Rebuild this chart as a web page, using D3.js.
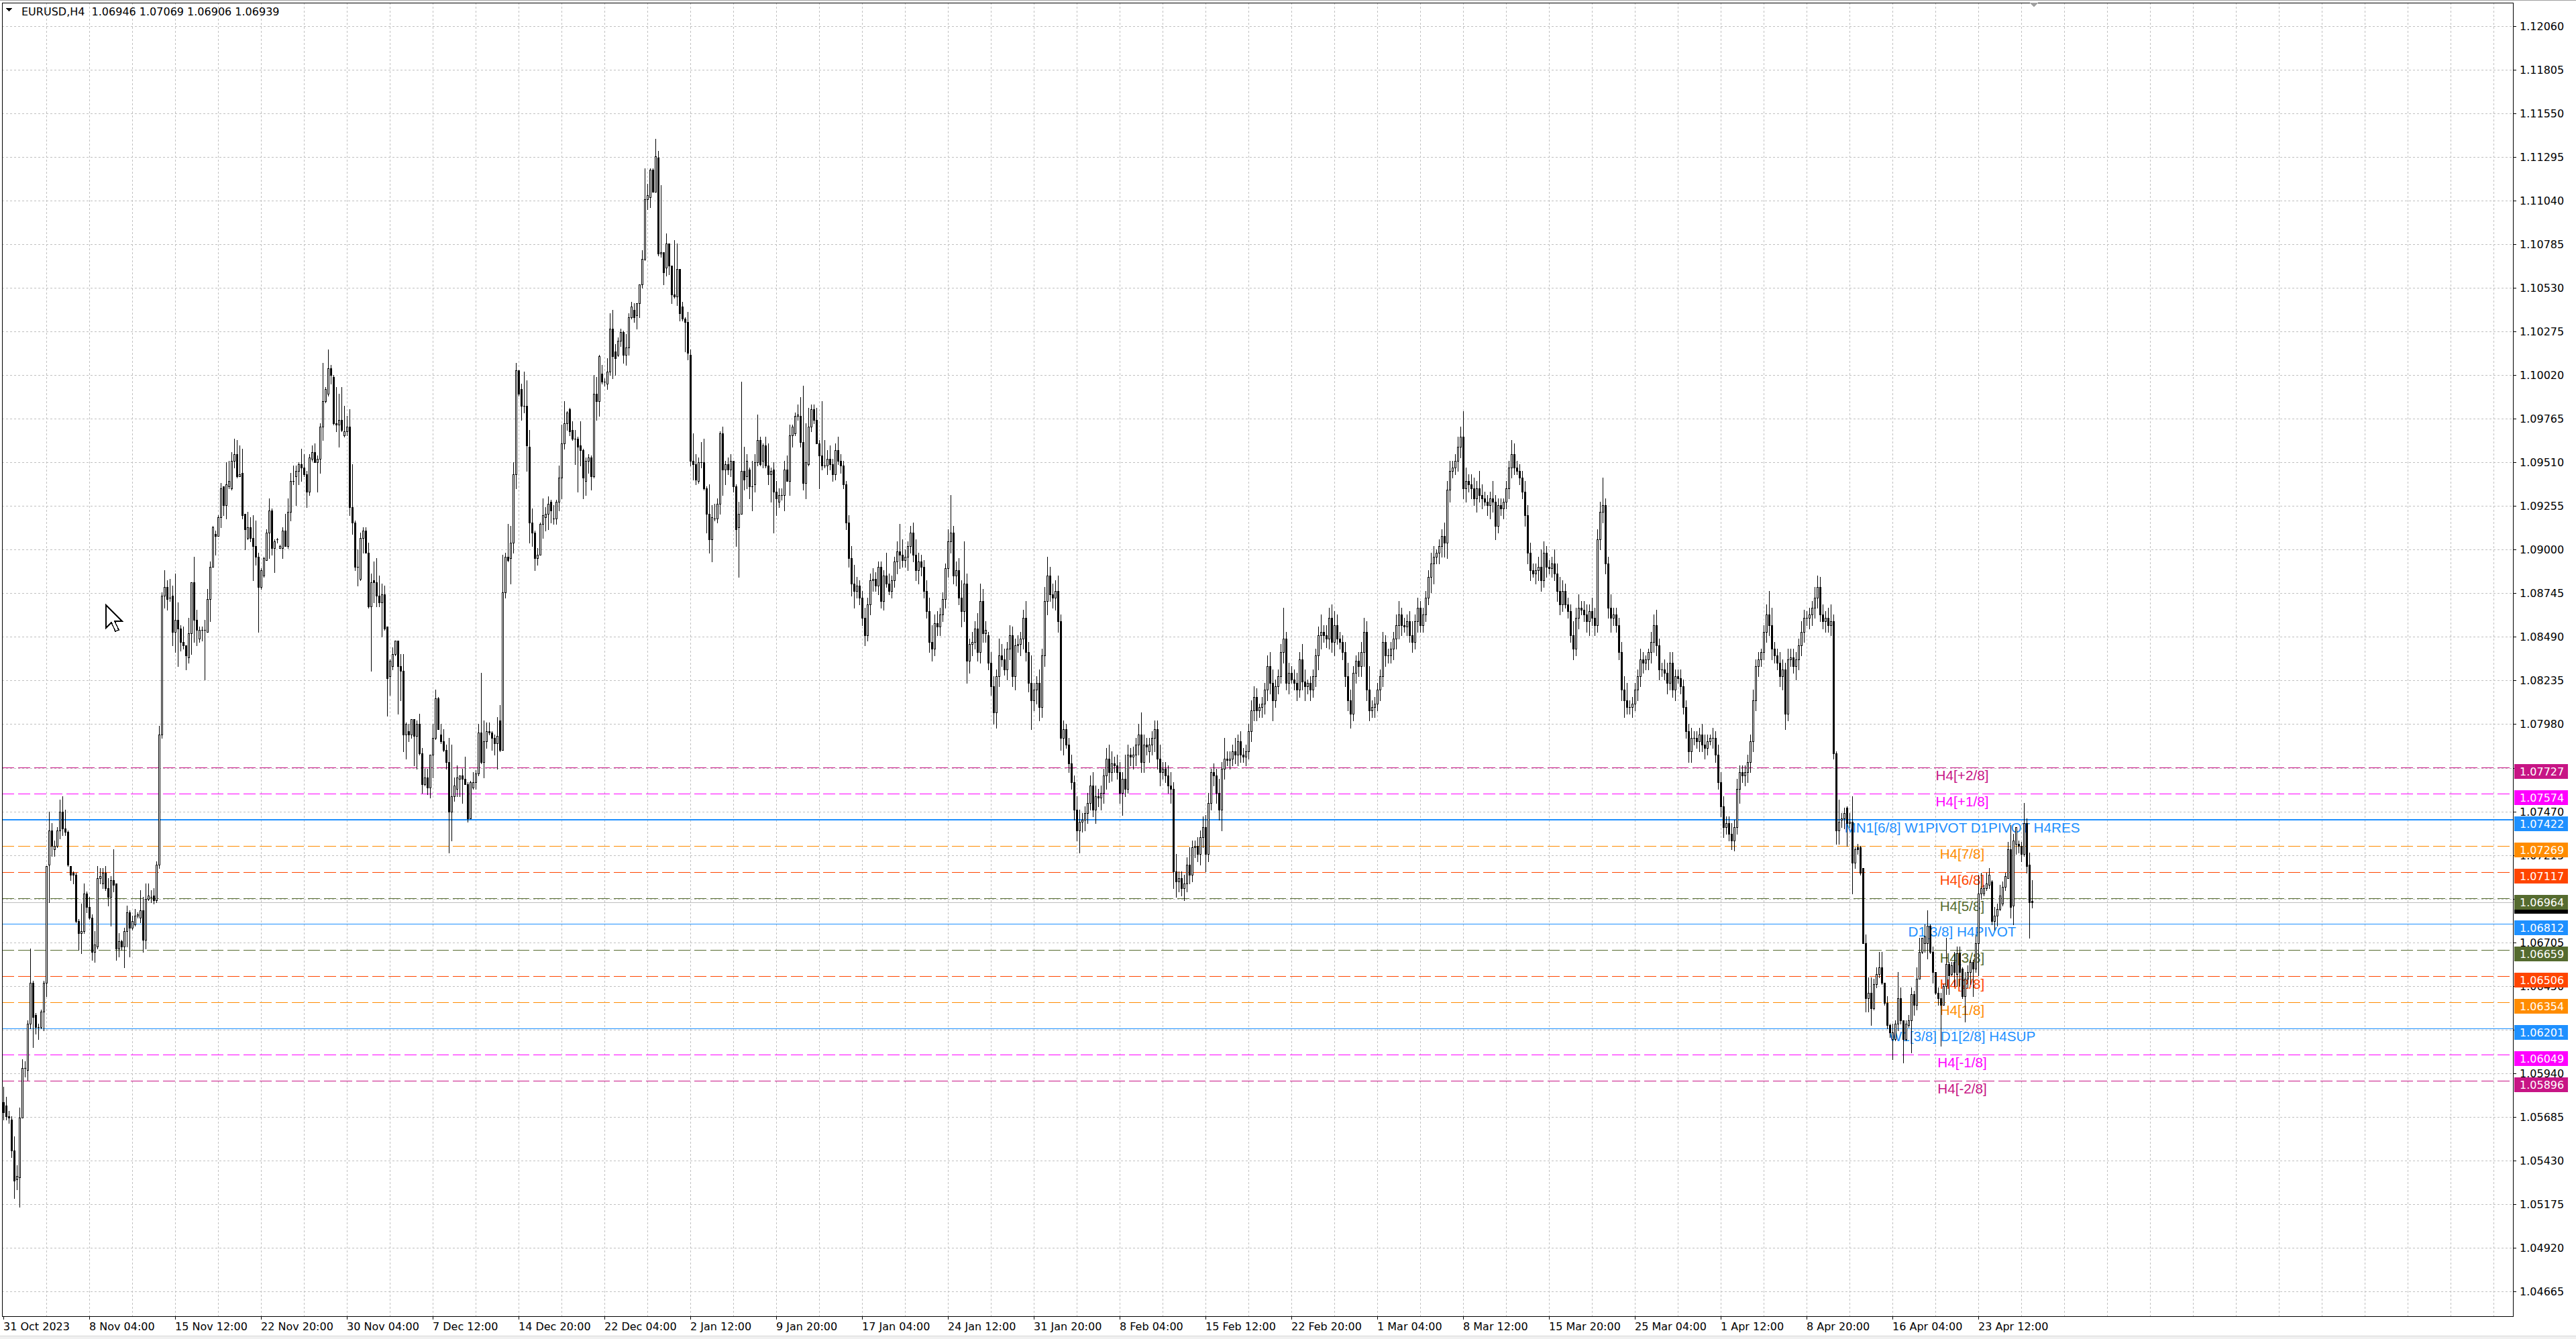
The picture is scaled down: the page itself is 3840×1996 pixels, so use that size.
<!DOCTYPE html>
<html><head><meta charset="utf-8">
<script src="https://cdn.jsdelivr.net/npm/d3@7"></script>
<style>html,body{margin:0;padding:0;background:#fff;overflow:hidden}svg{display:block}</style>
</head><body>
<script>
// ---------------- DATA ----------------
const symbolTitle = "EURUSD,H4";
const headerValues = ["1.06946", "1.07069", "1.06906", "1.06939"];
const timeLabels = ["31 Oct 2023","8 Nov 04:00","15 Nov 12:00","22 Nov 20:00","30 Nov 04:00","7 Dec 12:00","14 Dec 20:00","22 Dec 04:00","2 Jan 12:00","9 Jan 20:00","17 Jan 04:00","24 Jan 12:00","31 Jan 20:00","8 Feb 04:00","15 Feb 12:00","22 Feb 20:00","1 Mar 04:00","8 Mar 12:00","15 Mar 20:00","25 Mar 04:00","1 Apr 12:00","8 Apr 20:00","16 Apr 04:00","23 Apr 12:00"];
const timeLabelBars = [0,32,64,96,128,160,192,224,256,288,320,352,384,416,448,480,512,544,576,608,640,672,704,736];
const priceTicks = [1.04665,1.04920,1.05175,1.05430,1.05685,1.05940,1.06195,1.06450,1.06705,1.06960,1.07215,1.07470,1.07725,1.07980,1.08235,1.08490,1.08745,1.09000,1.09255,1.09510,1.09765,1.10020,1.10275,1.10530,1.10785,1.11040,1.11295,1.11550,1.11805,1.12060];
const levelPrices = [1.07727,1.07574,1.07422,1.07269,1.07117,1.06964,1.06812,1.06659,1.06506,1.06354,1.06201,1.06049,1.05896];
const levelNames = ["H4[+2/8]","H4[+1/8]","MN1[6/8] W1PIVOT D1PIVOT H4RES","H4[7/8]","H4[6/8]","H4[5/8]","D1[3/8] H4PIVOT","H4[3/8]","H4[2/8]","H4[1/8]","W1[3/8] D1[2/8] H4SUP","H4[-1/8]","H4[-2/8]"];
const bidPrice = 1.06939;

// bars 0..306
const openA = [1.0577,1.0575,1.0569,1.0567,1.0549,1.0532,1.0533,1.0568,1.0597,1.0596,1.0623,1.0647,1.0628,1.0621,1.0621,1.0630,1.0647,1.0716,1.0736,1.0725,1.0727,1.0736,1.0747,1.0737,1.0735,1.0715,1.0711,1.0710,1.0683,1.0676,1.0677,1.0699,1.0691,1.0685,1.0665,1.0668,1.0708,1.0705,1.0711,1.0702,1.0697,1.0707,1.0705,1.0667,1.0671,1.0668,1.0677,1.0688,1.0679,1.0681,1.0686,1.0685,1.0689,1.0672,1.0696,1.0697,1.0698,1.0695,1.0716,1.0792,1.0873,1.0878,1.0872,1.0873,1.0852,1.0859,1.0854,1.0846,1.0844,1.0837,1.0851,1.0881,1.0859,1.0848,1.0853,1.0853,1.0852,1.0871,1.0890,1.0909,1.0908,1.0919,1.0937,1.0926,1.0937,1.0936,1.0952,1.0956,1.0943,1.0945,1.0921,1.0907,1.0913,1.0907,1.0902,1.0896,1.0878,1.0885,1.0894,1.0910,1.0923,1.0901,1.0906,1.0901,1.0901,1.0911,1.0902,1.0922,1.0940,1.0943,1.0946,1.0950,1.0948,1.0944,1.0934,1.0953,1.0957,1.0951,1.0953,1.0972,1.0987,1.0991,1.1006,1.1001,1.0974,1.0973,1.0976,1.0967,1.0969,1.0972,1.0925,1.0916,1.0890,1.0883,1.0907,1.0911,1.0898,1.0867,1.0882,1.0881,1.0873,1.0869,1.0874,1.0855,1.0826,1.0832,1.0839,1.0847,1.0832,1.0829,1.0792,1.0794,1.0792,1.0801,1.0791,1.0798,1.0781,1.0763,1.0767,1.0761,1.0780,1.0790,1.0813,1.0792,1.0788,1.0783,1.0776,1.0747,1.0756,1.0760,1.0766,1.0768,1.0766,1.0763,1.0743,1.0761,1.0764,1.0769,1.0793,1.0776,1.0788,1.0794,1.0793,1.0790,1.0787,1.0800,1.0783,1.0875,1.0896,1.0895,1.0904,1.0944,1.1005,1.0994,1.0984,1.0984,1.0960,1.0916,1.0910,1.0895,1.0897,1.0915,1.0919,1.0921,1.0928,1.0918,1.0918,1.0928,1.0942,1.0962,1.0974,1.0982,1.0970,1.0965,1.0965,1.0961,1.0958,1.0940,1.0952,1.0954,1.0943,1.0991,1.0987,1.1003,1.0998,1.0997,1.1004,1.1029,1.1016,1.1014,1.1022,1.1027,1.1014,1.1018,1.1036,1.1040,1.1037,1.1044,1.1055,1.1070,1.1105,1.1106,1.1122,1.1109,1.1129,1.1073,1.1074,1.1065,1.1079,1.1066,1.1049,1.1048,1.1064,1.1042,1.1035,1.1033,1.1014,1.0952,1.0950,1.0940,1.0951,1.0951,1.0936,1.0921,1.0906,1.0918,1.0918,1.0927,1.0968,1.0947,1.0950,1.0947,1.0952,1.0937,1.0913,1.0921,1.0946,1.0943,1.0947,1.0937,1.0938,1.0951,1.0964,1.0952,1.0961,1.0949,1.0944,1.0947,1.0934,1.0928,1.0932,1.0932,1.0947,1.0940,1.0967,1.0968,1.0978,1.0978,1.0963,1.0939,1.0950,1.0972,1.0982,1.0976,1.0962,1.0955,1.0949];
const highA = [1.0586,1.0580,1.0572,1.0569,1.0557,1.0540,1.0574,1.0602,1.0601,1.0625,1.0667,1.0648,1.0629,1.0623,1.0631,1.0648,1.0715,1.0747,1.0740,1.0730,1.0738,1.0754,1.0756,1.0748,1.0736,1.0715,1.0712,1.0711,1.0684,1.0693,1.0705,1.0700,1.0697,1.0687,1.0677,1.0715,1.0714,1.0714,1.0715,1.0708,1.0709,1.0725,1.0705,1.0676,1.0672,1.0679,1.0692,1.0689,1.0686,1.0690,1.0688,1.0701,1.0697,1.0705,1.0705,1.0701,1.0702,1.0718,1.0797,1.0875,1.0888,1.0882,1.0883,1.0879,1.0886,1.0869,1.0856,1.0855,1.0844,1.0860,1.0881,1.0896,1.0865,1.0855,1.0855,1.0859,1.0877,1.0893,1.0914,1.0911,1.0920,1.0939,1.0937,1.0951,1.0952,1.0957,1.0965,1.0964,1.0961,1.0959,1.0921,1.0922,1.0919,1.0920,1.0917,1.0898,1.0889,1.0896,1.0912,1.0930,1.0924,1.0906,1.0907,1.0903,1.0913,1.0921,1.0930,1.0945,1.0949,1.0949,1.0951,1.0959,1.0956,1.0946,1.0956,1.0961,1.0962,1.0955,1.0974,1.1009,1.0995,1.1017,1.1008,1.1002,1.0995,1.0991,1.0995,1.0984,1.0978,1.0982,1.0950,1.0917,1.0900,1.0910,1.0913,1.0913,1.0904,1.0886,1.0893,1.0895,1.0885,1.0880,1.0879,1.0855,1.0836,1.0843,1.0847,1.0847,1.0839,1.0839,1.0799,1.0798,1.0801,1.0801,1.0800,1.0804,1.0784,1.0772,1.0772,1.0780,1.0798,1.0818,1.0814,1.0798,1.0795,1.0786,1.0790,1.0786,1.0767,1.0774,1.0768,1.0772,1.0779,1.0764,1.0765,1.0770,1.0771,1.0798,1.0828,1.0800,1.0799,1.0799,1.0794,1.0792,1.0802,1.0809,1.0897,1.0898,1.0915,1.0914,1.0951,1.1009,1.1005,1.0997,1.1004,1.0999,1.0970,1.0924,1.0911,1.0901,1.0916,1.0930,1.0925,1.0931,1.0929,1.0926,1.0929,1.0949,1.0973,1.0987,1.0981,1.0983,1.0975,1.0970,1.0966,1.0975,1.0959,1.0954,1.0956,1.0955,1.1002,1.1001,1.1014,1.1008,1.1000,1.1012,1.1038,1.1040,1.1020,1.1024,1.1029,1.1028,1.1026,1.1038,1.1045,1.1044,1.1044,1.1055,1.1075,1.1123,1.1114,1.1123,1.1123,1.1140,1.1133,1.1113,1.1074,1.1085,1.1079,1.1066,1.1081,1.1079,1.1064,1.1045,1.1036,1.1039,1.1017,1.0968,1.0956,1.0954,1.0963,1.0965,1.0937,1.0938,1.0926,1.0927,1.0930,1.0969,1.0972,1.0952,1.0954,1.0956,1.0952,1.0938,1.0928,1.0998,1.0960,1.0956,1.0948,1.0952,1.0956,1.0979,1.0966,1.0962,1.0966,1.0962,1.0948,1.0951,1.0940,1.0936,1.0936,1.0952,1.0955,1.0973,1.0973,1.0980,1.0985,1.0989,1.0996,1.0974,1.0983,1.0985,1.0985,1.0983,1.0964,1.0987,1.0964];
const lowA = [1.0567,1.0567,1.0565,1.0545,1.0521,1.0526,1.0516,1.0568,1.0592,1.0590,1.0620,1.0609,1.0617,1.0614,1.0620,1.0619,1.0639,1.0694,1.0721,1.0721,1.0726,1.0731,1.0733,1.0733,1.0715,1.0707,1.0705,1.0682,1.0666,1.0664,1.0676,1.0688,1.0684,1.0660,1.0659,1.0667,1.0705,1.0702,1.0701,1.0692,1.0680,1.0700,1.0660,1.0662,1.0666,1.0656,1.0668,1.0662,1.0678,1.0680,1.0685,1.0682,1.0665,1.0667,1.0695,1.0694,1.0693,1.0694,1.0714,1.0790,1.0866,1.0865,1.0870,1.0844,1.0840,1.0832,1.0841,1.0842,1.0830,1.0834,1.0839,1.0846,1.0844,1.0846,1.0847,1.0824,1.0852,1.0858,1.0890,1.0897,1.0908,1.0913,1.0920,1.0918,1.0936,1.0935,1.0948,1.0942,1.0943,1.0918,1.0900,1.0906,1.0905,1.0882,1.0891,1.0852,1.0877,1.0884,1.0894,1.0895,1.0897,1.0887,1.0904,1.0901,1.0895,1.0902,1.0901,1.0917,1.0938,1.0926,1.0938,1.0940,1.0943,1.0925,1.0932,1.0952,1.0951,1.0934,1.0945,1.0964,1.0986,1.0990,1.0997,1.0973,1.0969,1.0960,1.0969,1.0966,1.0967,1.0920,1.0909,1.0888,1.0879,1.0882,1.0898,1.0898,1.0866,1.0829,1.0869,1.0867,1.0867,1.0849,1.0853,1.0803,1.0815,1.0830,1.0838,1.0804,1.0812,1.0782,1.0778,1.0788,1.0790,1.0774,1.0772,1.0780,1.0758,1.0762,1.0757,1.0755,1.0767,1.0789,1.0795,1.0787,1.0782,1.0772,1.0723,1.0730,1.0753,1.0756,1.0756,1.0752,1.0763,1.0741,1.0743,1.0760,1.0760,1.0768,1.0775,1.0767,1.0784,1.0792,1.0783,1.0780,1.0772,1.0782,1.0783,1.0872,1.0893,1.0880,1.0898,1.0936,1.0990,1.0976,1.0980,1.0946,1.0904,1.0902,1.0888,1.0891,1.0897,1.0907,1.0911,1.0912,1.0916,1.0915,1.0915,1.0923,1.0930,1.0959,1.0970,1.0967,1.0964,1.0950,1.0934,1.0949,1.0930,1.0932,1.0945,1.0935,1.0942,1.0976,1.0978,1.0997,1.0996,1.0994,1.1002,1.1000,1.1002,1.1013,1.1019,1.1009,1.1008,1.1014,1.1035,1.1033,1.1029,1.1036,1.1053,1.1069,1.1099,1.1100,1.1109,1.1109,1.1072,1.1071,1.1055,1.1060,1.1061,1.1044,1.1047,1.1043,1.1034,1.1034,1.1016,1.1011,1.0949,1.0941,1.0938,1.0939,1.0948,1.0935,1.0910,1.0898,1.0893,1.0917,1.0916,1.0921,1.0932,1.0938,1.0944,1.0943,1.0934,1.0902,1.0884,1.0921,1.0935,1.0936,1.0930,1.0923,1.0934,1.0949,1.0949,1.0948,1.0948,1.0938,1.0928,1.0910,1.0920,1.0925,1.0929,1.0923,1.0940,1.0932,1.0960,1.0967,1.0976,1.0960,1.0935,1.0930,1.0949,1.0969,1.0974,1.0962,1.0936,1.0947,1.0948];
const closeA = [1.0571,1.0569,1.0568,1.0549,1.0531,1.0534,1.0568,1.0597,1.0597,1.0623,1.0647,1.0627,1.0621,1.0621,1.0630,1.0647,1.0715,1.0736,1.0727,1.0727,1.0736,1.0747,1.0737,1.0735,1.0716,1.0710,1.0710,1.0683,1.0676,1.0677,1.0699,1.0691,1.0685,1.0665,1.0669,1.0708,1.0709,1.0711,1.0702,1.0697,1.0707,1.0704,1.0667,1.0671,1.0668,1.0677,1.0688,1.0679,1.0683,1.0686,1.0687,1.0689,1.0672,1.0696,1.0698,1.0697,1.0695,1.0716,1.0792,1.0873,1.0878,1.0871,1.0872,1.0852,1.0859,1.0854,1.0846,1.0844,1.0838,1.0851,1.0881,1.0859,1.0853,1.0853,1.0853,1.0853,1.0871,1.0890,1.0913,1.0908,1.0919,1.0936,1.0926,1.0938,1.0940,1.0952,1.0956,1.0943,1.0944,1.0920,1.0912,1.0913,1.0907,1.0902,1.0896,1.0878,1.0888,1.0895,1.0910,1.0923,1.0901,1.0905,1.0906,1.0902,1.0911,1.0902,1.0922,1.0940,1.0940,1.0946,1.0950,1.0948,1.0944,1.0934,1.0954,1.0957,1.0951,1.0953,1.0972,1.0987,1.0994,1.1006,1.1002,1.0974,1.0973,1.0976,1.0970,1.0969,1.0972,1.0925,1.0916,1.0890,1.0890,1.0907,1.0911,1.0898,1.0867,1.0881,1.0881,1.0873,1.0869,1.0874,1.0854,1.0825,1.0835,1.0839,1.0847,1.0832,1.0829,1.0792,1.0798,1.0792,1.0801,1.0791,1.0798,1.0781,1.0763,1.0767,1.0761,1.0780,1.0790,1.0813,1.0795,1.0788,1.0783,1.0776,1.0747,1.0756,1.0762,1.0767,1.0768,1.0766,1.0763,1.0743,1.0764,1.0764,1.0769,1.0793,1.0776,1.0788,1.0794,1.0793,1.0790,1.0787,1.0791,1.0783,1.0875,1.0896,1.0894,1.0904,1.0944,1.1005,1.0991,1.0984,1.0984,1.0961,1.0916,1.0910,1.0895,1.0897,1.0915,1.0920,1.0921,1.0927,1.0923,1.0918,1.0928,1.0942,1.0962,1.0974,1.0980,1.0969,1.0965,1.0965,1.0960,1.0958,1.0942,1.0952,1.0954,1.0943,1.0991,1.0987,1.1013,1.0998,1.0998,1.1004,1.1029,1.1013,1.1012,1.1022,1.1027,1.1014,1.1018,1.1036,1.1042,1.1036,1.1044,1.1055,1.1070,1.1105,1.1107,1.1122,1.1109,1.1130,1.1073,1.1074,1.1062,1.1079,1.1066,1.1049,1.1048,1.1064,1.1038,1.1035,1.1033,1.1015,1.0952,1.0950,1.0941,1.0951,1.0951,1.0936,1.0921,1.0906,1.0919,1.0918,1.0927,1.0968,1.0947,1.0950,1.0947,1.0952,1.0937,1.0912,1.0921,1.0946,1.0941,1.0952,1.0937,1.0937,1.0951,1.0964,1.0950,1.0961,1.0949,1.0944,1.0946,1.0934,1.0930,1.0932,1.0932,1.0947,1.0940,1.0967,1.0972,1.0978,1.0979,1.0963,1.0939,1.0951,1.0972,1.0982,1.0976,1.0962,1.0955,1.0949,1.0949];

// bars 307..682
const openB = [1.0949,1.0953,1.0950,1.0944,1.0958,1.0952,1.0949,1.0938,1.0916,1.0895,
1.0880,1.0876,1.0879,1.0872,1.0860,1.0850,1.0868,1.0882,1.0883,1.0879,
1.0890,1.0870,1.0885,1.0880,1.0876,1.0882,1.0893,1.0899,1.0897,1.0894,
1.0896,1.0902,1.0910,1.0897,1.0888,1.0893,1.0890,1.0876,1.0864,1.0846,
1.0842,1.0857,1.0855,1.0862,1.0871,1.0889,1.0905,1.0910,1.0885,1.0888,
1.0872,1.0864,1.0880,1.0835,1.0845,1.0846,1.0854,1.0840,1.0870,1.0851,
1.0850,1.0834,1.0820,1.0805,1.0826,1.0838,1.0836,1.0830,1.0842,1.0850,
1.0826,1.0844,1.0845,1.0848,1.0860,1.0840,1.0822,1.0812,1.0818,1.0822,
1.0808,1.0838,1.0870,1.0885,1.0874,1.0872,1.0876,1.0858,1.0790,1.0795,
1.0786,1.0775,1.0764,1.0748,1.0736,1.0741,1.0742,1.0746,1.0752,1.0762,
1.0748,1.0756,1.0755,1.0758,1.0768,1.0778,1.0770,1.0775,1.0774,1.0770,
1.0758,1.0766,1.0760,1.0780,1.0779,1.0780,1.0786,1.0792,1.0776,1.0786,
1.0782,1.0786,1.0790,1.0795,1.0778,1.0770,1.0772,1.0768,1.0762,1.0760,
1.0712,1.0706,1.0708,1.0702,1.0705,1.0716,1.0710,1.0726,1.0727,1.0722,
1.0732,1.0738,1.0722,1.0752,1.0770,1.0768,1.0758,1.0748,1.0772,1.0778,
1.0777,1.0778,1.0782,1.0780,1.0788,1.0780,1.0779,1.0782,1.0794,1.0806,
1.0814,1.0806,1.0808,1.0810,1.0818,1.0832,1.0822,1.0812,1.0820,1.0826,
1.0840,1.0848,1.0822,1.0828,1.0824,1.0822,1.0818,1.0836,1.0823,1.0820,
1.0822,1.0818,1.0826,1.0838,1.0850,1.0852,1.0850,1.0848,1.0860,1.0846,
1.0856,1.0848,1.0846,1.0840,1.0826,1.0812,1.0804,1.0828,1.0835,1.0832,
1.0840,1.0852,1.0818,1.0806,1.0808,1.0810,1.0818,1.0826,1.0846,1.0838,
1.0838,1.0842,1.0848,1.0856,1.0862,1.0856,1.0855,1.0858,1.0850,1.0846,
1.0858,1.0866,1.0856,1.0862,1.0872,1.0884,1.0892,1.0896,1.0898,1.0902,
1.0908,1.0904,1.0935,1.0946,1.0948,1.0952,1.0960,1.0966,1.0936,1.0940,
1.0938,1.0936,1.0930,1.0936,1.0932,1.0930,1.0928,1.0926,1.0930,1.0928,
1.0914,1.0926,1.0924,1.0928,1.0936,1.0948,1.0956,1.0948,1.0946,1.0942,
1.0934,1.0920,1.0898,1.0888,1.0886,1.0888,1.0890,1.0882,1.0898,1.0890,
1.0889,1.0892,1.0886,1.0876,1.0868,1.0876,1.0868,1.0864,1.0850,1.0842,
1.0860,1.0866,1.0865,1.0862,1.0858,1.0864,1.0860,1.0856,1.0906,1.0922,
1.0926,1.0892,1.0866,1.0860,1.0862,1.0856,1.0840,1.0818,1.0812,1.0808,
1.0808,1.0810,1.0818,1.0826,1.0836,1.0834,1.0836,1.0840,1.0846,1.0856,
1.0844,1.0830,1.0830,1.0828,1.0822,1.0834,1.0818,1.0826,1.0825,1.0820,
1.0808,1.0794,1.0782,1.0790,1.0790,1.0788,1.0792,1.0786,1.0784,1.0788,
1.0790,1.0790,1.0780,1.0764,1.0750,1.0738,1.0740,1.0734,1.0730,1.0738,
1.0760,1.0770,1.0768,1.0770,1.0776,1.0788,1.0812,1.0832,1.0836,1.0840,
1.0852,1.0862,1.0856,1.0842,1.0838,1.0834,1.0826,1.0830,1.0804,1.0836,
1.0837,1.0832,1.0836,1.0844,1.0852,1.0860,1.0860,1.0862,1.0866,1.0872,
1.0878,1.0862,1.0858,1.0860,1.0856,1.0858];
const highB = [1.0958,1.0961,1.0953,1.0962,1.0966,1.0956,1.0952,1.0940,1.0920,1.0902,
1.0891,1.0884,1.0882,1.0876,1.0866,1.0872,1.0886,1.0889,1.0887,1.0893,
1.0893,1.0888,1.0898,1.0886,1.0885,1.0896,1.0905,1.0915,1.0906,1.0900,
1.0905,1.0914,1.0916,1.0906,1.0898,1.0897,1.0894,1.0882,1.0872,1.0856,
1.0862,1.0864,1.0866,1.0875,1.0892,1.0912,1.0932,1.0914,1.0893,1.0895,
1.0882,1.0905,1.0886,1.0848,1.0852,1.0858,1.0863,1.0880,1.0877,1.0858,
1.0852,1.0840,1.0826,1.0830,1.0848,1.0845,1.0842,1.0846,1.0856,1.0855,
1.0848,1.0850,1.0852,1.0865,1.0870,1.0846,1.0838,1.0822,1.0826,1.0830,
1.0842,1.0878,1.0896,1.0890,1.0880,1.0882,1.0885,1.0862,1.0800,1.0798,
1.0790,1.0780,1.0768,1.0756,1.0748,1.0746,1.0750,1.0758,1.0768,1.0770,
1.0762,1.0760,1.0762,1.0772,1.0784,1.0786,1.0782,1.0779,1.0780,1.0776,
1.0770,1.0780,1.0786,1.0784,1.0785,1.0790,1.0798,1.0805,1.0792,1.0790,
1.0790,1.0794,1.0800,1.0800,1.0786,1.0776,1.0776,1.0774,1.0770,1.0764,
1.0722,1.0712,1.0712,1.0710,1.0720,1.0726,1.0730,1.0730,1.0732,1.0736,
1.0744,1.0745,1.0758,1.0772,1.0775,1.0772,1.0766,1.0776,1.0790,1.0782,
1.0782,1.0786,1.0790,1.0792,1.0794,1.0784,1.0786,1.0798,1.0812,1.0820,
1.0819,1.0810,1.0814,1.0822,1.0838,1.0840,1.0830,1.0824,1.0830,1.0845,
1.0866,1.0852,1.0834,1.0832,1.0830,1.0828,1.0840,1.0845,1.0830,1.0824,
1.0826,1.0830,1.0842,1.0855,1.0862,1.0856,1.0856,1.0866,1.0868,1.0864,
1.0862,1.0852,1.0850,1.0846,1.0834,1.0818,1.0832,1.0838,1.0840,1.0846,
1.0860,1.0858,1.0832,1.0812,1.0814,1.0822,1.0830,1.0852,1.0850,1.0842,
1.0846,1.0852,1.0862,1.0870,1.0866,1.0860,1.0862,1.0864,1.0858,1.0862,
1.0872,1.0870,1.0866,1.0876,1.0888,1.0898,1.0902,1.0900,1.0906,1.0912,
1.0916,1.0940,1.0952,1.0952,1.0956,1.0966,1.0972,1.0981,1.0948,1.0944,
1.0944,1.0942,1.0940,1.0946,1.0938,1.0934,1.0932,1.0934,1.0940,1.0932,
1.0930,1.0930,1.0930,1.0940,1.0952,1.0964,1.0962,1.0952,1.0950,1.0946,
1.0940,1.0926,1.0904,1.0892,1.0892,1.0896,1.0900,1.0905,1.0902,1.0894,
1.0896,1.0900,1.0892,1.0884,1.0882,1.0880,1.0872,1.0868,1.0858,1.0866,
1.0874,1.0870,1.0870,1.0868,1.0868,1.0872,1.0866,1.0912,1.0928,1.0942,
1.0930,1.0896,1.0874,1.0866,1.0866,1.0860,1.0846,1.0826,1.0822,1.0812,
1.0814,1.0822,1.0830,1.0842,1.0840,1.0838,1.0842,1.0852,1.0862,1.0865,
1.0848,1.0834,1.0836,1.0834,1.0840,1.0840,1.0830,1.0830,1.0830,1.0824,
1.0812,1.0798,1.0796,1.0794,1.0794,1.0796,1.0798,1.0792,1.0792,1.0792,
1.0796,1.0794,1.0786,1.0770,1.0756,1.0744,1.0744,1.0740,1.0742,1.0766,
1.0774,1.0774,1.0774,1.0780,1.0792,1.0818,1.0836,1.0840,1.0842,1.0856,
1.0868,1.0876,1.0866,1.0846,1.0842,1.0840,1.0836,1.0834,1.0842,1.0842,
1.0842,1.0840,1.0848,1.0858,1.0865,1.0864,1.0866,1.0870,1.0878,1.0885,
1.0884,1.0868,1.0864,1.0866,1.0868,1.0862];
const lowB = [1.0944,1.0947,1.0940,1.0941,1.0950,1.0945,1.0936,1.0912,1.0890,1.0873,
1.0866,1.0872,1.0868,1.0856,1.0844,1.0847,1.0862,1.0876,1.0876,1.0874,
1.0866,1.0865,1.0878,1.0874,1.0872,1.0878,1.0886,1.0889,1.0890,1.0890,
1.0888,1.0898,1.0893,1.0882,1.0880,1.0885,1.0872,1.0860,1.0840,1.0835,
1.0838,1.0850,1.0850,1.0858,1.0866,1.0884,1.0898,1.0880,1.0879,1.0868,
1.0855,1.0858,1.0822,1.0828,1.0838,1.0842,1.0835,1.0834,1.0846,1.0846,
1.0830,1.0815,1.0798,1.0796,1.0820,1.0832,1.0827,1.0824,1.0836,1.0820,
1.0818,1.0840,1.0838,1.0842,1.0835,1.0817,1.0795,1.0806,1.0810,1.0800,
1.0802,1.0832,1.0862,1.0870,1.0866,1.0865,1.0852,1.0783,1.0780,1.0784,
1.0770,1.0760,1.0742,1.0730,1.0723,1.0735,1.0736,1.0740,1.0748,1.0744,
1.0740,1.0750,1.0748,1.0752,1.0760,1.0764,1.0765,1.0770,1.0766,1.0752,
1.0745,1.0756,1.0758,1.0774,1.0772,1.0774,1.0780,1.0770,1.0770,1.0780,
1.0776,1.0780,1.0782,1.0772,1.0762,1.0766,1.0764,1.0758,1.0752,1.0702,
1.0697,1.0700,1.0698,1.0695,1.0700,1.0705,1.0706,1.0720,1.0718,1.0716,
1.0726,1.0712,1.0718,1.0748,1.0762,1.0752,1.0742,1.0736,1.0766,1.0774,
1.0772,1.0774,1.0775,1.0774,1.0776,1.0776,1.0774,1.0778,1.0788,1.0800,
1.0800,1.0802,1.0802,1.0804,1.0812,1.0816,1.0800,1.0808,1.0816,1.0822,
1.0834,1.0818,1.0816,1.0822,1.0818,1.0812,1.0814,1.0818,1.0812,1.0816,
1.0812,1.0814,1.0820,1.0830,1.0842,1.0846,1.0843,1.0842,1.0840,1.0838,
1.0845,1.0842,1.0836,1.0820,1.0806,1.0796,1.0800,1.0822,1.0826,1.0826,
1.0832,1.0812,1.0800,1.0802,1.0802,1.0806,1.0812,1.0820,1.0832,1.0834,
1.0834,1.0836,1.0842,1.0848,1.0850,1.0852,1.0850,1.0846,1.0840,1.0842,
1.0852,1.0852,1.0852,1.0858,1.0868,1.0875,1.0880,1.0892,1.0892,1.0896,
1.0896,1.0895,1.0928,1.0942,1.0944,1.0946,1.0954,1.0930,1.0928,1.0934,
1.0930,1.0926,1.0922,1.0928,1.0924,1.0926,1.0920,1.0918,1.0922,1.0906,
1.0910,1.0920,1.0918,1.0924,1.0930,1.0942,1.0944,1.0944,1.0938,1.0930,
1.0914,1.0892,1.0882,1.0884,1.0880,1.0882,1.0876,1.0878,1.0884,1.0886,
1.0884,1.0882,1.0870,1.0862,1.0864,1.0866,1.0860,1.0846,1.0836,1.0838,
1.0854,1.0862,1.0858,1.0852,1.0850,1.0856,1.0850,1.0852,1.0900,1.0916,
1.0886,1.0860,1.0852,1.0856,1.0852,1.0836,1.0812,1.0802,1.0804,1.0804,
1.0802,1.0806,1.0812,1.0820,1.0828,1.0830,1.0830,1.0834,1.0840,1.0838,
1.0824,1.0826,1.0824,1.0816,1.0818,1.0814,1.0812,1.0822,1.0816,1.0804,
1.0790,1.0776,1.0776,1.0786,1.0784,1.0782,1.0782,1.0778,1.0780,1.0786,
1.0784,1.0776,1.0760,1.0744,1.0732,1.0734,1.0730,1.0725,1.0724,1.0734,
1.0752,1.0764,1.0762,1.0764,1.0770,1.0782,1.0806,1.0826,1.0832,1.0836,
1.0846,1.0850,1.0836,1.0834,1.0830,1.0820,1.0818,1.0795,1.0800,1.0832,
1.0828,1.0824,1.0830,1.0838,1.0846,1.0856,1.0854,1.0856,1.0860,1.0866,
1.0858,1.0854,1.0852,1.0852,1.0850,1.0778];
const closeB = [1.0953,1.0950,1.0944,1.0958,1.0952,1.0949,1.0938,1.0916,1.0895,1.0880,
1.0876,1.0879,1.0872,1.0860,1.0850,1.0868,1.0882,1.0883,1.0879,1.0890,
1.0870,1.0885,1.0880,1.0876,1.0882,1.0893,1.0899,1.0897,1.0894,1.0896,
1.0902,1.0910,1.0897,1.0888,1.0893,1.0890,1.0876,1.0864,1.0846,1.0842,
1.0857,1.0855,1.0862,1.0871,1.0889,1.0905,1.0910,1.0885,1.0888,1.0872,
1.0864,1.0880,1.0835,1.0845,1.0846,1.0854,1.0840,1.0870,1.0851,1.0853,
1.0834,1.0820,1.0805,1.0826,1.0838,1.0836,1.0830,1.0842,1.0850,1.0826,
1.0844,1.0845,1.0848,1.0860,1.0840,1.0822,1.0812,1.0818,1.0822,1.0808,
1.0838,1.0870,1.0885,1.0874,1.0872,1.0876,1.0858,1.0790,1.0795,1.0786,
1.0775,1.0764,1.0748,1.0736,1.0741,1.0742,1.0746,1.0752,1.0762,1.0748,
1.0756,1.0755,1.0758,1.0768,1.0778,1.0770,1.0775,1.0774,1.0770,1.0758,
1.0766,1.0760,1.0780,1.0779,1.0780,1.0786,1.0792,1.0776,1.0786,1.0785,
1.0786,1.0790,1.0795,1.0778,1.0770,1.0772,1.0768,1.0762,1.0760,1.0712,
1.0706,1.0708,1.0702,1.0705,1.0716,1.0710,1.0726,1.0727,1.0722,1.0732,
1.0738,1.0722,1.0752,1.0770,1.0768,1.0758,1.0748,1.0772,1.0778,1.0777,
1.0778,1.0782,1.0780,1.0788,1.0780,1.0779,1.0782,1.0794,1.0806,1.0814,
1.0806,1.0808,1.0810,1.0818,1.0832,1.0822,1.0812,1.0820,1.0826,1.0840,
1.0848,1.0822,1.0828,1.0824,1.0822,1.0818,1.0836,1.0823,1.0820,1.0822,
1.0818,1.0826,1.0838,1.0850,1.0852,1.0850,1.0848,1.0860,1.0846,1.0856,
1.0848,1.0846,1.0840,1.0826,1.0812,1.0804,1.0828,1.0835,1.0832,1.0840,
1.0852,1.0818,1.0806,1.0808,1.0810,1.0818,1.0826,1.0846,1.0838,1.0838,
1.0842,1.0848,1.0856,1.0862,1.0856,1.0855,1.0858,1.0850,1.0846,1.0858,
1.0866,1.0856,1.0862,1.0872,1.0884,1.0892,1.0896,1.0898,1.0902,1.0908,
1.0904,1.0935,1.0946,1.0948,1.0952,1.0960,1.0966,1.0936,1.0940,1.0938,
1.0936,1.0930,1.0936,1.0932,1.0930,1.0928,1.0926,1.0930,1.0928,1.0914,
1.0926,1.0924,1.0928,1.0936,1.0948,1.0956,1.0948,1.0946,1.0942,1.0934,
1.0920,1.0898,1.0888,1.0886,1.0888,1.0890,1.0882,1.0898,1.0890,1.0889,
1.0892,1.0886,1.0876,1.0868,1.0876,1.0868,1.0864,1.0850,1.0842,1.0860,
1.0866,1.0865,1.0862,1.0858,1.0864,1.0860,1.0856,1.0906,1.0922,1.0926,
1.0892,1.0866,1.0860,1.0862,1.0856,1.0840,1.0818,1.0812,1.0808,1.0808,
1.0810,1.0818,1.0826,1.0836,1.0834,1.0836,1.0840,1.0846,1.0856,1.0844,
1.0830,1.0830,1.0828,1.0822,1.0834,1.0818,1.0826,1.0825,1.0820,1.0808,
1.0794,1.0782,1.0790,1.0790,1.0788,1.0792,1.0786,1.0784,1.0788,1.0790,
1.0790,1.0780,1.0764,1.0750,1.0738,1.0740,1.0734,1.0730,1.0738,1.0760,
1.0770,1.0768,1.0770,1.0776,1.0788,1.0812,1.0832,1.0836,1.0840,1.0852,
1.0862,1.0856,1.0842,1.0838,1.0834,1.0826,1.0830,1.0804,1.0836,1.0837,
1.0832,1.0836,1.0844,1.0852,1.0860,1.0860,1.0862,1.0866,1.0872,1.0878,
1.0862,1.0858,1.0860,1.0856,1.0858,1.0781];

// bars 683..756
const openC = [1.0781,1.0736,1.0742,1.0743,1.0749,1.0740,1.0741,1.0717,1.0726,1.0726,1.0714,1.0670,1.0638,1.0641,1.0632,1.0646,1.0652,1.0656,1.0647,1.0635,1.0622,1.0614,1.0614,1.0623,1.0638,1.0625,1.0614,1.0622,1.0625,1.0640,1.0634,1.0649,1.0665,1.0670,1.0670,1.0680,1.0665,1.0653,1.0641,1.0638,1.0634,1.0645,1.0658,1.0652,1.0659,1.0652,1.0664,1.0655,1.0639,1.0649,1.0653,1.0659,1.0655,1.0670,1.0699,1.0699,1.0702,1.0704,1.0706,1.0683,1.0686,1.0690,1.0693,1.0703,1.0708,1.0725,1.0692,1.0728,1.0728,1.0727,1.0722,1.0740,1.0716,1.06946];
const highC = [1.0782,1.0754,1.0746,1.0749,1.0750,1.0746,1.0756,1.0726,1.0728,1.0727,1.0714,1.0675,1.0650,1.0650,1.0649,1.0656,1.0665,1.0665,1.0647,1.0639,1.0623,1.0623,1.0625,1.0653,1.0644,1.0625,1.0625,1.0628,1.0644,1.0642,1.0656,1.0673,1.0673,1.0681,1.0689,1.0681,1.0668,1.0653,1.0644,1.0641,1.0646,1.0673,1.0659,1.0659,1.0665,1.0668,1.0668,1.0656,1.0653,1.0657,1.0660,1.0660,1.0675,1.0710,1.0711,1.0704,1.0711,1.0714,1.0707,1.0691,1.0693,1.0704,1.0706,1.0711,1.0729,1.0739,1.0734,1.0738,1.0730,1.0729,1.0752,1.0743,1.0723,1.07069];
const lowC = [1.0728,1.0728,1.0738,1.0737,1.0727,1.0738,1.0699,1.0714,1.0722,1.0710,1.0670,1.0630,1.0630,1.0622,1.0631,1.0644,1.0650,1.0646,1.0634,1.0620,1.0615,1.0602,1.0613,1.0619,1.0623,1.0600,1.0613,1.0621,1.0606,1.0628,1.0631,1.0649,1.0664,1.0665,1.0661,1.0664,1.0647,1.0640,1.0634,1.0610,1.0634,1.0640,1.0640,1.0651,1.0645,1.0645,1.0645,1.0638,1.0624,1.0644,1.0646,1.0639,1.0653,1.0651,1.0696,1.0698,1.0701,1.0702,1.0681,1.0678,1.0680,1.0689,1.0692,1.0701,1.0708,1.0685,1.0681,1.0722,1.0723,1.0718,1.0721,1.0711,1.0673,1.06906];
const closeC = [1.0736,1.0741,1.0743,1.0746,1.0740,1.0741,1.0717,1.0725,1.0725,1.0711,1.0670,1.0638,1.0641,1.0632,1.0646,1.0652,1.0656,1.0647,1.0635,1.0622,1.0618,1.0618,1.0623,1.0638,1.0625,1.0614,1.0623,1.0625,1.0640,1.0634,1.0649,1.0665,1.0673,1.0674,1.0680,1.0665,1.0653,1.0641,1.0638,1.0634,1.0645,1.0658,1.0651,1.0657,1.0653,1.0664,1.0653,1.0639,1.0649,1.0653,1.0659,1.0655,1.0670,1.0699,1.0702,1.0702,1.0705,1.0710,1.0683,1.0686,1.0690,1.0698,1.0703,1.0709,1.0725,1.0691,1.0730,1.0738,1.0727,1.0722,1.0740,1.0715,1.0694,1.06939];

// ---------------- STYLE ----------------
const W = 3840, H = 1996;
const plotL = 3, plotR = 3746, plotT = 4, plotB = 1962;
const levelColors = ["#c71585","#ff00ff","#1e90ff","#ff8c00","#ff4500","#556b2f","#1e90ff","#556b2f","#ff4500","#ff8c00","#1e90ff","#ff00ff","#c71585"];
const levelKinds = ["dash","dash","thick","dash","dash","dash","solid","dash","dash","dash","solid","dash","dash"];

const openPx = openA.concat(openB, openC);
const highPx = highA.concat(highB, highC);
const lowPx = lowA.concat(lowB, lowC);
const closePx = closeA.concat(closeB, closeC);
const bars = openPx.map((o,i)=>({i, o, h:highPx[i], l:lowPx[i], c:closePx[i]}));

const x = d3.scaleLinear().domain([0, 756]).range([5, 3029]);
const y = d3.scaleLinear().domain([1.04665, 1.12060]).range([1924.9, 39]);
const snap = v => Math.round(v) + 0.5;

const svg = d3.select("body").append("svg").attr("width", W).attr("height", H)
  .attr("shape-rendering","crispEdges")
  .style("font-family","'DejaVu Sans', Verdana, sans-serif");
svg.append("rect").attr("width",W).attr("height",H).attr("fill","#fff");
svg.append("line").attr("x1",0).attr("x2",W).attr("y1",0.5).attr("y2",0.5).attr("stroke","#a0a0a0");
svg.append("rect").attr("x",0).attr("y",1991).attr("width",W).attr("height",5).attr("fill","#f0f0f0");
svg.append("line").attr("x1",0).attr("x2",W).attr("y1",1991.5).attr("y2",1991.5).attr("stroke","#d8d8d8");

const plot = svg.append("g");
const gridC = "#c0c0c0";
plot.append("g").selectAll("line").data(priceTicks).join("line")
  .attr("x1", plotL).attr("x2", plotR)
  .attr("y1", d=>snap(y(d))).attr("y2", d=>snap(y(d)))
  .attr("stroke", gridC).attr("stroke-dasharray","3,3");
const vGrid = d3.range(16, 935, 16);
plot.append("g").selectAll("line").data(vGrid).join("line")
  .attr("x1", d=>snap(x(d))).attr("x2", d=>snap(x(d)))
  .attr("y1", plotT).attr("y2", plotB)
  .attr("stroke", gridC).attr("stroke-dasharray","3,3");

const levels = levelPrices.map((p,k)=>({p, name:levelNames[k], col:levelColors[k], kind:levelKinds[k]}));
plot.append("g").selectAll("line").data(levels).join("line")
  .attr("x1", plotL).attr("x2", plotR)
  .attr("y1", d=>d.kind==="thick"? Math.round(y(d.p)) : snap(y(d.p)))
  .attr("y2", d=>d.kind==="thick"? Math.round(y(d.p)) : snap(y(d.p)))
  .attr("stroke", d=>d.col)
  .attr("stroke-width", d=>d.kind==="thick"?2:1)
  .attr("stroke-dasharray", d=>d.kind==="dash"?"18,6":null);
plot.append("line").attr("x1",plotL).attr("x2",plotR)
  .attr("y1",snap(y(bidPrice))).attr("y2",snap(y(bidPrice))).attr("stroke","#c0c0c0");

const labelBar = 730;
plot.append("g").selectAll("text").data(levels).join("text")
  .attr("x", x(labelBar)).attr("y", d=>Math.round(y(d.p))+19)
  .attr("text-anchor","middle")
  .attr("font-family","'Liberation Sans', Arial, sans-serif")
  .attr("font-size", 20.7)
  .attr("fill", d=>d.col)
  .text(d=>d.name);

const cg = plot.append("g");
bars.forEach(b=>{
  const cx = snap(x(b.i));
  cg.append("line").attr("x1",cx).attr("x2",cx)
    .attr("y1", Math.round(y(b.h))).attr("y2", Math.round(y(b.l))+1)
    .attr("stroke","#000");
  const top = snap(y(Math.max(b.o,b.c))), bot = snap(y(Math.min(b.o,b.c)));
  const up = b.c >= b.o;
  if (bot - top < 1) {
    cg.append("line").attr("x1",cx-1.5).attr("x2",cx+1.5).attr("y1",top).attr("y2",top).attr("stroke","#000");
  } else {
    cg.append("rect").attr("x",cx-1).attr("width",2).attr("y",top).attr("height",bot-top)
      .attr("fill", up ? "#fff" : "#000").attr("stroke","#000");
  }
});

svg.append("rect").attr("x",plotL+0.5).attr("y",plotT+0.5).attr("width",plotR-plotL).attr("height",plotB-plotT)
  .attr("fill","none").attr("stroke","#000");

const ax = svg.append("g").attr("font-size",16).attr("fill","#000");
ax.selectAll("line").data(priceTicks).join("line")
  .attr("x1",plotR+1).attr("x2",plotR+5).attr("y1",d=>snap(y(d))).attr("y2",d=>snap(y(d))).attr("stroke","#000");
ax.selectAll("text").data(priceTicks).join("text")
  .attr("x",3756).attr("y",d=>Math.round(y(d))+6).text(d=>d.toFixed(5));

svg.append("rect").attr("x",3748).attr("y",Math.round(y(bidPrice))-5).attr("width",80).attr("height",22).attr("fill","#000");
const lb = svg.append("g");
lb.selectAll("rect").data(levels).join("rect")
  .attr("x",3748).attr("y",d=>Math.round(y(d.p))-5).attr("width",80).attr("height",22).attr("fill",d=>d.col);
lb.selectAll("text").data(levels).join("text")
  .attr("x",3756).attr("y",d=>Math.round(y(d.p))+12).attr("font-size",16).attr("fill","#fff")
  .text(d=>d.p.toFixed(5));

const tx = svg.append("g").attr("font-size",16).attr("fill","#000");
tx.selectAll("line").data(timeLabelBars).join("line")
  .attr("x1",d=>snap(x(d))).attr("x2",d=>snap(x(d))).attr("y1",plotB).attr("y2",plotB+5).attr("stroke","#000");
tx.selectAll("text").data(timeLabels).join("text")
  .attr("x",(d,k)=>Math.max(4, x(timeLabelBars[k]))).attr("y",1983).text(d=>d);

svg.append("path").attr("d","M9,12 L18,12 L13.5,17 Z").attr("fill","#000").attr("shape-rendering",null);
svg.append("text").attr("x",32).attr("y",23).attr("font-size",16)
  .attr("xml:space","preserve").style("white-space","pre")
  .text(symbolTitle + "  " + headerValues.join(" "));

svg.append("path").attr("d","M3025,4 L3039,4 L3032,10 Z").attr("fill","#a0a0a0").attr("shape-rendering",null);

const cur = [[0,0],[0,34],[8,26],[14,39],[19,37],[13,24],[24,24]];
svg.append("path").attr("d","M"+cur.map(p=>(158+p[0])+","+(902+p[1])).join("L")+"Z")
  .attr("fill","#fff").attr("stroke","#000").attr("stroke-width",1.5).attr("shape-rendering",null);
</script>
</body></html>
